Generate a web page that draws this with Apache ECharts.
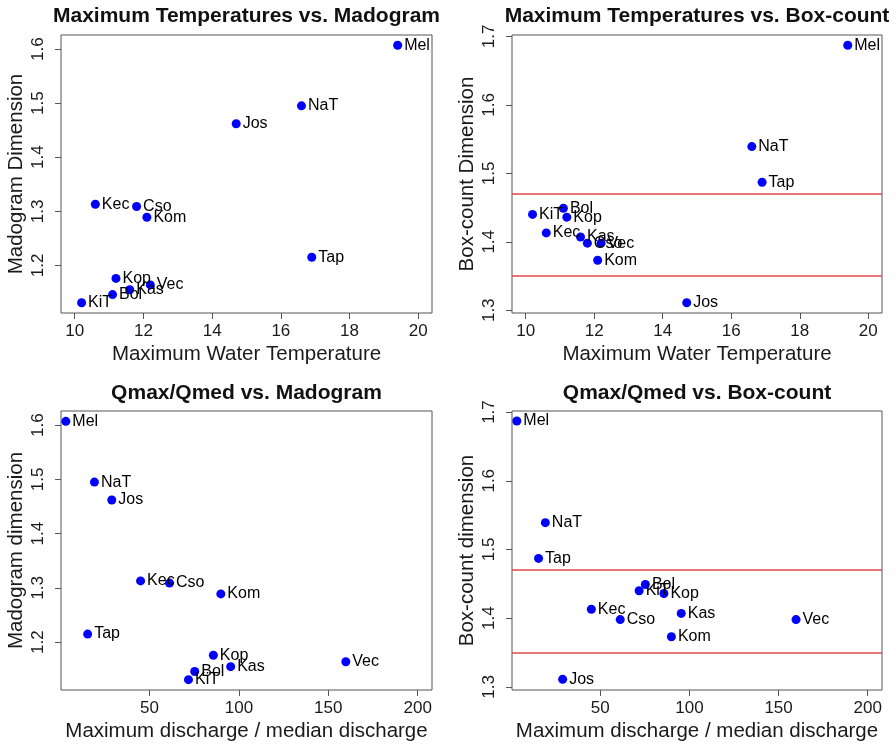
<!DOCTYPE html>
<html>
<head>
<meta charset="utf-8">
<script src="https://cdn.jsdelivr.net/npm/echarts@6/dist/echarts.min.js"></script>
<style>
  html, body { margin: 0; padding: 0; background: #fff; }
  #chart { width: 896px; height: 744px; }
</style>
</head>
<body>
<div id="chart"></div>
<script>
// Station codes and their measured attributes
const stations   = ['Mel', 'NaT', 'Jos', 'Kec', 'Cso', 'Kom', 'Tap', 'Kop', 'Vec', 'Kas', 'Bol', 'KiT'];
const maxWaterTemp = [19.4, 16.6, 14.7, 10.6, 11.8, 12.1, 16.9, 11.2, 12.2, 11.6, 11.1, 10.2];
const qmaxQmed     = [3.2, 19.2, 28.9, 45.0, 61.2, 89.9, 15.4, 85.7, 159.8, 95.4, 75.3, 71.8];
const madogramDim  = [1.607, 1.495, 1.462, 1.313, 1.309, 1.289, 1.215, 1.176, 1.164, 1.155, 1.146, 1.131];
const boxCountDim  = [1.687, 1.539, 1.311, 1.413, 1.398, 1.373, 1.487, 1.436, 1.398, 1.407, 1.449, 1.440];

// Tick positions and reference levels
const tempTicks  = [10, 12, 14, 16, 18, 20];
const ratioTicks = [50, 100, 150, 200];
const madTicks   = [1.2, 1.3, 1.4, 1.5, 1.6];
const boxTicks   = [1.3, 1.4, 1.5, 1.6, 1.7];
const boxRefLines = [1.35, 1.47];

const panelTitles = [
  'Maximum Temperatures vs. Madogram',
  'Maximum Temperatures vs. Box-count',
  'Qmax/Qmed vs. Madogram',
  'Qmax/Qmed vs. Box-count'
];

const FONT = '"Liberation Sans", Arial, sans-serif';

const grids = [
  { left: 61,  top: 35,  width: 371, height: 278 },
  { left: 512, top: 35,  width: 370, height: 278 },
  { left: 61,  top: 411, width: 371, height: 279 },
  { left: 512, top: 411, width: 370, height: 279 }
];

function xAxisDef(idx, name, min, max, ticks) {
  return {
    type: 'value', gridIndex: idx, min: min, max: max,
    name: name, nameLocation: 'middle', nameGap: 31,
    nameTextStyle: { fontFamily: FONT, fontSize: 20.5, color: '#1a1a1a' },
    axisLine: { show: false },
    splitLine: { show: false },
    axisTick: { show: true, inside: false, length: 6, customValues: ticks,
      lineStyle: { color: '#555', width: 1 } },
    axisLabel: { show: true, customValues: ticks, margin: 10,
      fontFamily: FONT, fontSize: 17, color: '#1a1a1a' }
  };
}

function yAxisDef(idx, name, min, max, ticks) {
  return {
    type: 'value', gridIndex: idx, min: min, max: max,
    name: name, nameLocation: 'middle', nameGap: 34,
    nameTextStyle: { fontFamily: FONT, fontSize: 20.5, color: '#1a1a1a' },
    axisLine: { show: false },
    splitLine: { show: false },
    axisTick: { show: true, inside: false, length: 6, customValues: ticks,
      lineStyle: { color: '#555', width: 1 } },
    axisLabel: { show: true, customValues: ticks, rotate: 90, margin: 14,
      fontFamily: FONT, fontSize: 17, color: '#1a1a1a' }
  };
}

function pairs(xs, ys) {
  return xs.map((x, i) => ({ value: [x, ys[i]], name: stations[i] }));
}

function scatterDef(idx, xs, ys, refLines) {
  const s = {
    type: 'scatter', xAxisIndex: idx, yAxisIndex: idx,
    data: pairs(xs, ys),
    symbol: 'circle', symbolSize: 9,
    itemStyle: { color: '#0000ff', opacity: 1 },
    label: {
      show: true, position: 'right', distance: 2,
      formatter: p => p.name,
      fontFamily: FONT, fontSize: 16, color: '#000', opacity: 1
    },
    emphasis: { disabled: true },
    animation: false
  };
  if (refLines) {
    s.markLine = {
      silent: true, symbol: 'none', animation: false,
      label: { show: false },
      emphasis: { disabled: true },
      lineStyle: { color: '#e04848', width: 1.5, type: 'solid', opacity: 1 },
      data: refLines.map(v => ({ yAxis: v }))
    };
  }
  return s;
}

const titleGraphics = panelTitles.map((t, i) => ({
  type: 'text',
  x: grids[i].left + grids[i].width / 2,
  y: i < 2 ? 16 : 393,
  style: {
    text: t, align: 'center', verticalAlign: 'middle',
    font: 'bold 21px ' + FONT, fill: '#111'
  }
}));

const option = {
  backgroundColor: '#fff',
  animation: false,
  grid: grids.map(g => Object.assign({ show: true, borderColor: '#555', borderWidth: 1,
    backgroundColor: 'transparent', containLabel: false }, g)),
  xAxis: [
    xAxisDef(0, 'Maximum Water Temperature', 9.6, 20.4, tempTicks),
    xAxisDef(1, 'Maximum Water Temperature', 9.6, 20.4, tempTicks),
    xAxisDef(2, 'Maximum discharge / median discharge', 0.5, 208, ratioTicks),
    xAxisDef(3, 'Maximum discharge / median discharge', 0.5, 208, ratioTicks)
  ],
  yAxis: [
    yAxisDef(0, 'Madogram Dimension', 1.112, 1.626, madTicks),
    yAxisDef(1, 'Box-count Dimension', 1.296, 1.702, boxTicks),
    yAxisDef(2, 'Madogram dimension', 1.112, 1.626, madTicks),
    yAxisDef(3, 'Box-count dimension', 1.2955, 1.7015, boxTicks)
  ],
  series: [
    scatterDef(0, maxWaterTemp, madogramDim),
    scatterDef(1, maxWaterTemp, boxCountDim, boxRefLines),
    scatterDef(2, qmaxQmed, madogramDim),
    scatterDef(3, qmaxQmed, boxCountDim, boxRefLines)
  ],
  graphic: titleGraphics
};

const chart = echarts.init(document.getElementById('chart'), null, { renderer: 'canvas' });
chart.setOption(option);
</script>
</body>
</html>
